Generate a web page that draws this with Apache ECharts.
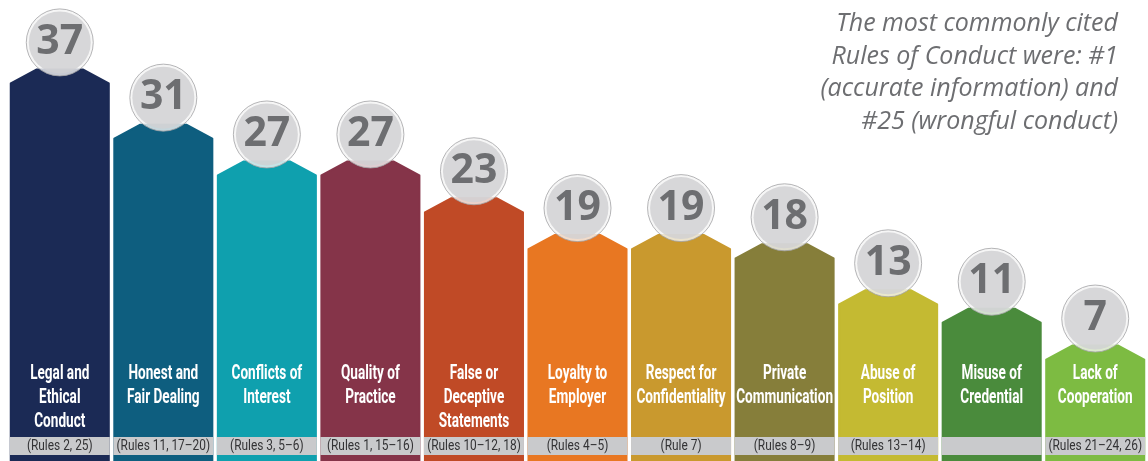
<!DOCTYPE html>
<html>
<head>
<meta charset="utf-8">
<script src="https://cdn.jsdelivr.net/npm/echarts@6/dist/echarts.min.js"></script>
<style>
html,body{margin:0;padding:0;background:#fff;}
#chart{width:1148px;height:461px;}
</style>
</head>
<body>
<div id="chart"></div>
<script>
const categories = [
  'Legal and\nEthical\nConduct',
  'Honest and\nFair Dealing',
  'Conflicts of\nInterest',
  'Quality of\nPractice',
  'False or\nDeceptive\nStatements',
  'Loyalty to\nEmployer',
  'Respect for\nConfidentiality',
  'Private\nCommunication',
  'Abuse of\nPosition',
  'Misuse of\nCredential',
  'Lack of\nCooperation'
];
const values = [37, 31, 27, 27, 23, 19, 19, 18, 13, 11, 7];
const rules = [
  '(Rules 2, 25)', '(Rules 11, 17–20)', '(Rules 3, 5–6)', '(Rules 1, 15–16)',
  '(Rules 10–12, 18)', '(Rules 4–5)', '(Rule 7)', '(Rules 8–9)',
  '(Rules 13–14)', '', '(Rules 21–24, 26)'
];
const noteLines = [
  'The most commonly cited',
  'Rules of Conduct were: #1',
  '(accurate information) and',
  '#25 (wrongful conduct)'
];
const palette = ['#1b2a55', '#0e5e7f', '#0fa0ae', '#853449', '#c04a26', '#e87722',
                 '#c9992e', '#867e3a', '#c4ba32', '#4a8b3c', '#7dbb42'];

const chart = echarts.init(document.getElementById('chart'));
const points = values.map((v, i) => [i, v]);

chart.setOption({
  animation: false,
  grid: { left: 8, right: 1, top: 5, bottom: 5 },
  xAxis: { type: 'category', data: categories, show: false },
  yAxis: { type: 'value', min: -5, max: 44, show: false },
  graphic: noteLines.map((t, k) => ({
    type: 'text', right: 30, top: 8 + k * 32.5,
    style: {
      text: t, align: 'right', lineHeight: 32.5,
      font: 'italic 25px "Open Sans", sans-serif', fill: '#6d6e71'
    }
  })),
  series: [{
    type: 'custom',
    data: points,
    renderItem: function (params, api) {
      const i = api.value(0), v = api.value(1);
      const c = api.coord([i, v]);
      const bw = api.size([1, 0])[0] - 5.5;
      const x0 = c[0] - bw / 2, x1 = c[0] + bw / 2, top = c[1];
      const H = api.getHeight();
      const col = palette[i];
      return {
        type: 'group',
        children: [
          { type: 'polygon',
            shape: { points: [[x0, top + 14], [x0 + 26, top], [x1 - 26, top], [x1, top + 14], [x1, H + 2], [x0, H + 2]] },
            style: { fill: col, stroke: col, lineWidth: 2, lineJoin: 'round' } },
          { type: 'rect', shape: { x: x0 - 1, y: H - 24, width: bw + 2, height: 18 },
            style: { fill: '#c9cacc' } },
          { type: 'text', x: c[0], y: H - 99, scaleX: 0.68,
            style: { text: categories[i], x: 0, y: 0, align: 'center', verticalAlign: 'top',
                     lineHeight: 24, font: 'bold 20px Roboto, sans-serif', fill: '#ffffff' } },
          { type: 'text', x: c[0], y: H - 15, scaleX: 0.85,
            style: { text: rules[i], x: 0, y: 0, align: 'center', verticalAlign: 'middle',
                     font: '14px Roboto, sans-serif', fill: '#333335' } }
        ]
      };
    }
  }, {
    type: 'scatter',
    data: points,
    symbol: 'circle',
    symbolSize: 67,
    symbolOffset: [0, -27],
    itemStyle: { color: '#f4f4f4', borderColor: '#a2a3a5', borderWidth: 1 },
    silent: true
  }, {
    type: 'scatter',
    data: points,
    symbol: 'circle',
    symbolSize: 62,
    symbolOffset: [0, -27],
    itemStyle: { color: '#cfd0d2' },
    label: { show: true, position: 'inside', formatter: p => p.value[1],
             fontSize: 41, fontWeight: 'bold', fontFamily: '"Open Sans", sans-serif', color: '#535456' }
  }]
});
</script>
</body>
</html>
